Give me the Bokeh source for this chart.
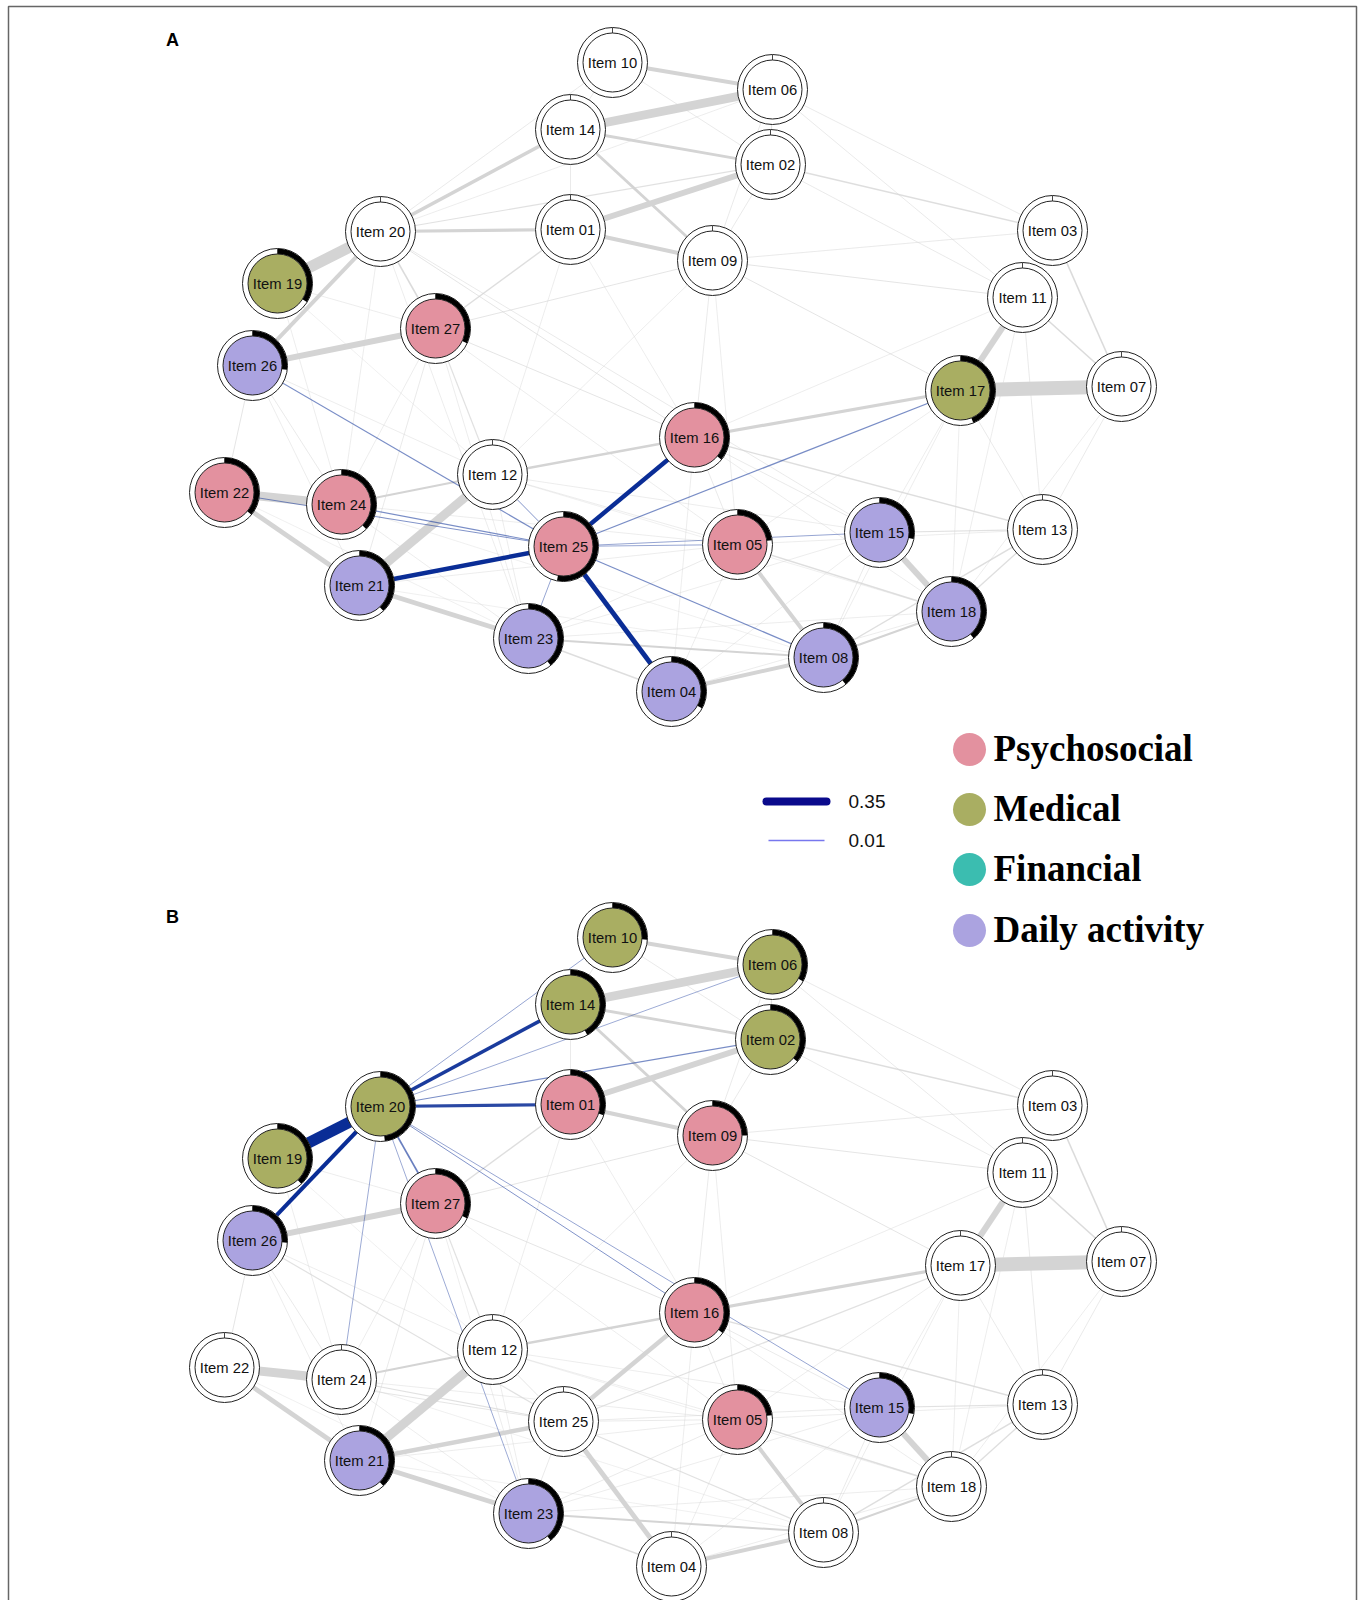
import math
from bokeh.plotting import figure
from bokeh.models import Range1d, ColumnDataSource
from bokeh.embed import file_html
from bokeh.resources import INLINE
from bokeh.core.properties import value

# ---------------- data ----------------
items = ["Item 01", "Item 02", "Item 03", "Item 04", "Item 05", "Item 06", "Item 07",
         "Item 08", "Item 09", "Item 10", "Item 11", "Item 12", "Item 13", "Item 14",
         "Item 15", "Item 16", "Item 17", "Item 18", "Item 19", "Item 20", "Item 21",
         "Item 22", "Item 23", "Item 24", "Item 25", "Item 26", "Item 27"]

# network layout (image coordinates of panel A)
layout_x = [570, 770, 1052, 671, 737, 772, 1121, 823, 712, 612, 1022, 492, 1042, 570,
            879, 694, 960, 951, 277, 380, 359, 224, 528, 341, 563, 252, 435]
layout_y = [229, 164, 230, 691, 544, 89, 386, 657, 260, 62, 297, 474, 529, 129,
            532, 437, 390, 611, 283, 231, 585, 492, 638, 504, 546, 365, 328]

categories = ["Psychosocial", "Medical", "Financial", "Daily activity"]

# group of each item per panel ("" = not highlighted)
group_A = ["", "", "", "Daily activity", "Psychosocial", "", "", "Daily activity", "", "",
           "", "", "", "", "Daily activity", "Psychosocial", "Medical", "Daily activity",
           "Medical", "", "Daily activity", "Psychosocial", "Daily activity", "Psychosocial",
           "Psychosocial", "Daily activity", "Psychosocial"]
group_B = ["Psychosocial", "Medical", "", "", "Psychosocial", "Medical", "", "",
           "Psychosocial", "Medical", "", "", "", "Medical", "Daily activity", "Psychosocial",
           "", "", "Medical", "Medical", "Daily activity", "", "Daily activity", "", "",
           "Daily activity", "Psychosocial"]

# predictability pies
pie_A = [0, 0, 0, 0.33, 0.23, 0, 0, 0.39, 0, 0, 0, 0, 0, 0, 0.28, 0.36, 0.44, 0.39,
         0.34, 0, 0.38, 0.36, 0.39, 0.375, 0.53, 0.27, 0.32]
pie_B = [0.30, 0.36, 0, 0, 0.23, 0.33, 0, 0, 0.25, 0.26, 0, 0, 0, 0.42, 0.28, 0.35, 0,
         0, 0.38, 0.48, 0.38, 0, 0.39, 0, 0, 0.26, 0.32]

hub_A = "Item 25"
hub_B = "Item 20"

edge_from = ["Item 17", "Item 19", "Item 14", "Item 22", "Item 21", "Item 26", "Item 01",
             "Item 17", "Item 15", "Item 22", "Item 21", "Item 10", "Item 01", "Item 05",
             "Item 04", "Item 20", "Item 20", "Item 20", "Item 14", "Item 14", "Item 16",
             "Item 12", "Item 24", "Item 23", "Item 25", "Item 25", "Item 25", "Item 11",
             "Item 03", "Item 02", "Item 20", "Item 27", "Item 22", "Item 08", "Item 08",
             "Item 18", "Item 23", "Item 15", "Item 05", "Item 16", "Item 09", "Item 27",
             "Item 25", "Item 25", "Item 25", "Item 25", "Item 25", "Item 25", "Item 25",
             "Item 25", "Item 25",
             "Item 20", "Item 20", "Item 20", "Item 20", "Item 20", "Item 20", "Item 20",
             "Item 19", "Item 19", "Item 26", "Item 26", "Item 26", "Item 27", "Item 27",
             "Item 27", "Item 27", "Item 27", "Item 27", "Item 12", "Item 12", "Item 12",
             "Item 12", "Item 12", "Item 24", "Item 24", "Item 24", "Item 22", "Item 21",
             "Item 21", "Item 23", "Item 23", "Item 23", "Item 04", "Item 04", "Item 04",
             "Item 04", "Item 16", "Item 16", "Item 16", "Item 16", "Item 16", "Item 16",
             "Item 05", "Item 05", "Item 15", "Item 15", "Item 18", "Item 18", "Item 18",
             "Item 08", "Item 13", "Item 13", "Item 13", "Item 09", "Item 09", "Item 09",
             "Item 02", "Item 02", "Item 06", "Item 06", "Item 06", "Item 10", "Item 10",
             "Item 14", "Item 01", "Item 06", "Item 12"]
edge_to = ["Item 07", "Item 20", "Item 06", "Item 24", "Item 12", "Item 27", "Item 02",
           "Item 11", "Item 18", "Item 21", "Item 23", "Item 06", "Item 09", "Item 08",
           "Item 08", "Item 26", "Item 14", "Item 01", "Item 02", "Item 09", "Item 17",
           "Item 16", "Item 12", "Item 08", "Item 21", "Item 16", "Item 04", "Item 07",
           "Item 07", "Item 03", "Item 27", "Item 01", "Item 26", "Item 18", "Item 13",
           "Item 13", "Item 04", "Item 13", "Item 18", "Item 13", "Item 11", "Item 12",
           "Item 17", "Item 26", "Item 24", "Item 22", "Item 15", "Item 05", "Item 08",
           "Item 12", "Item 23",
           "Item 02", "Item 10", "Item 06", "Item 16", "Item 15", "Item 24", "Item 23",
           "Item 27", "Item 24", "Item 24", "Item 21", "Item 12", "Item 24", "Item 21",
           "Item 23", "Item 09", "Item 16", "Item 05", "Item 23", "Item 05", "Item 15",
           "Item 18", "Item 09", "Item 23", "Item 05", "Item 08", "Item 23", "Item 05",
           "Item 08", "Item 05", "Item 15", "Item 18", "Item 05", "Item 15", "Item 18",
           "Item 16", "Item 05", "Item 15", "Item 18", "Item 09", "Item 01", "Item 11",
           "Item 13", "Item 17", "Item 17", "Item 08", "Item 17", "Item 07", "Item 11",
           "Item 17", "Item 11", "Item 17", "Item 07", "Item 03", "Item 17", "Item 05",
           "Item 11", "Item 09", "Item 03", "Item 11", "Item 09", "Item 14", "Item 02",
           "Item 01", "Item 12", "Item 02", "Item 19"]
edge_weight = [0.35, 0.28, 0.22, 0.22, 0.22, 0.15, 0.15,
               0.15, 0.15, 0.12, 0.12, 0.10, 0.10, 0.10,
               0.10, 0.10, 0.09, 0.08, 0.07, 0.07, 0.08,
               0.06, 0.05, 0.05, 0.11, 0.11, 0.12, 0.04,
               0.04, 0.035, 0.04, 0.035, 0.025, 0.05, 0.035,
               0.035, 0.035, 0.03, 0.035, 0.035, 0.025, 0.03,
               0.03, 0.03, 0.03, 0.025, 0.02, 0.02, 0.03,
               0.025, 0.02,
               0.03, 0.02, 0.015, 0.025, 0.02, 0.015, 0.015,
               0.015, 0.015, 0.02, 0.015, 0.015, 0.015, 0.02,
               0.015, 0.025, 0.025, 0.015, 0.015, 0.015, 0.015,
               0.01, 0.015, 0.015, 0.015, 0.01, 0.01, 0.015,
               0.01, 0.02, 0.015, 0.015, 0.015, 0.015, 0.015,
               0.015, 0.02, 0.02, 0.015, 0.02, 0.015, 0.015,
               0.015, 0.015, 0.015, 0.02, 0.015, 0.015, 0.015,
               0.015, 0.02, 0.02, 0.02, 0.02, 0.025, 0.015,
               0.02, 0.02, 0.02, 0.02, 0.02, 0.02, 0.02,
               0.02, 0.015, 0.03, 0.01]

legend_weights = [0.35, 0.01]

# ---------------- styling ----------------
cat_colors = {"Psychosocial": "#e3919f", "Medical": "#a9ae62",
              "Financial": "#3bbdb0", "Daily activity": "#aba3e0"}
IMG_H = 1602
W, H = 1364, 1600
R_OUT, R_IN = 35, 29.5
FONT = "Liberation Sans"

p = figure(width=W, height=H, output_backend="svg", toolbar_location=None,
           x_range=Range1d(0, W), y_range=Range1d(IMG_H - H, IMG_H),
           min_border=0, background_fill_color="white", border_fill_color="white")
p.axis.visible = False
p.grid.visible = False
p.outline_line_color = None

idx = {n: i for i, n in enumerate(items)}


def fy(y):
    return IMG_H - y


# frame
p.line([8, 8, 1356, 1356], [fy(1602), fy(6), fy(6), fy(1602)],
       line_color="#666666", line_width=1.5)


def draw_panel(groups, pies, hub, dy):
    nx = layout_x
    ny = [fy(y + dy) for y in layout_y]
    order = sorted(range(len(edge_weight)), key=lambda k: edge_weight[k])
    gray = dict(x0=[], y0=[], x1=[], y1=[], w=[], a=[])
    blue = dict(x0=[], y0=[], x1=[], y1=[], w=[], a=[])
    for k in order:
        a, b, w = idx[edge_from[k]], idx[edge_to[k]], edge_weight[k]
        tgt = blue if hub in (edge_from[k], edge_to[k]) else gray
        tgt["x0"].append(nx[a]); tgt["y0"].append(ny[a])
        tgt["x1"].append(nx[b]); tgt["y1"].append(ny[b])
        tgt["w"].append(max(0.9, w * 40))
        if tgt is blue:
            tgt["a"].append(min(1.0, 0.35 + w / 0.1 * 0.65))
        else:
            tgt["a"].append(min(1.0, 0.22 + w / 0.05 * 0.78))
    p.segment("x0", "y0", "x1", "y1", source=ColumnDataSource(gray),
              line_color="#d4d4d4", line_width="w", line_alpha="a")
    p.segment("x0", "y0", "x1", "y1", source=ColumnDataSource(blue),
              line_color="#0a2d96", line_width="w", line_alpha="a")

    # node outer ring
    p.circle(nx, ny, radius=R_OUT, fill_color="white", line_color="#222222", line_width=1)
    # pies
    px, py, sa, ea = [], [], [], []
    for i, f in enumerate(pies):
        if f > 0:
            px.append(nx[i]); py.append(ny[i])
            sa.append(math.pi / 2 - 2 * math.pi * f); ea.append(math.pi / 2)
    p.annular_wedge(px, py, inner_radius=R_IN, outer_radius=R_OUT - 0.3,
                    start_angle=sa, end_angle=ea, direction="anticlock",
                    fill_color="black", line_color=None)
    # tick at top
    p.segment(nx, [y + R_IN for y in ny], nx, [y + R_OUT for y in ny],
              line_color="#444444", line_width=1)
    # inner disc
    fills = [cat_colors[g] if g else "white" for g in groups]
    p.circle(nx, ny, radius=R_IN, fill_color=fills, line_color="#222222", line_width=1)
    p.text(nx, ny, text=items, text_align="center", text_baseline="middle",
           text_font=value(FONT), text_font_size="14.8px", text_color="#111111")


draw_panel(group_A, pie_A, hub_A, 0)
draw_panel(group_B, pie_B, hub_B, 875)

# panel letters
p.text([172, 172], [fy(39), fy(916)], text=["A", "B"], text_align="center",
       text_baseline="middle", text_font=value(FONT), text_font_size="18px",
       text_font_style="bold", text_color="black")

# edge weight legend
p.segment([766], [fy(801)], [826], [fy(801)], line_color="#0a0a8c",
          line_width=legend_weights[0] * 23, line_cap="round")
p.segment([768], [fy(840)], [824], [fy(840)], line_color="#7777ee",
          line_width=1.5)
p.text([848, 848], [fy(801), fy(840)], text=[f"{v:.2f}" for v in legend_weights],
       text_align="left", text_baseline="middle", text_font=value(FONT),
       text_font_size="19px", text_color="#111111")

# category legend
leg_y = [fy(749), fy(809), fy(869), fy(930)]
p.circle([969] * 4, leg_y, radius=16.5, fill_color=[cat_colors[c] for c in categories],
         line_color=None)
p.text([993] * 4, [y + 1 for y in leg_y], text=categories, text_align="left",
       text_baseline="middle", text_font=value("Liberation Serif"),
       text_font_size="37px", text_font_style="bold", text_color="black")

open("out.html", "w").write(file_html(p, INLINE))
